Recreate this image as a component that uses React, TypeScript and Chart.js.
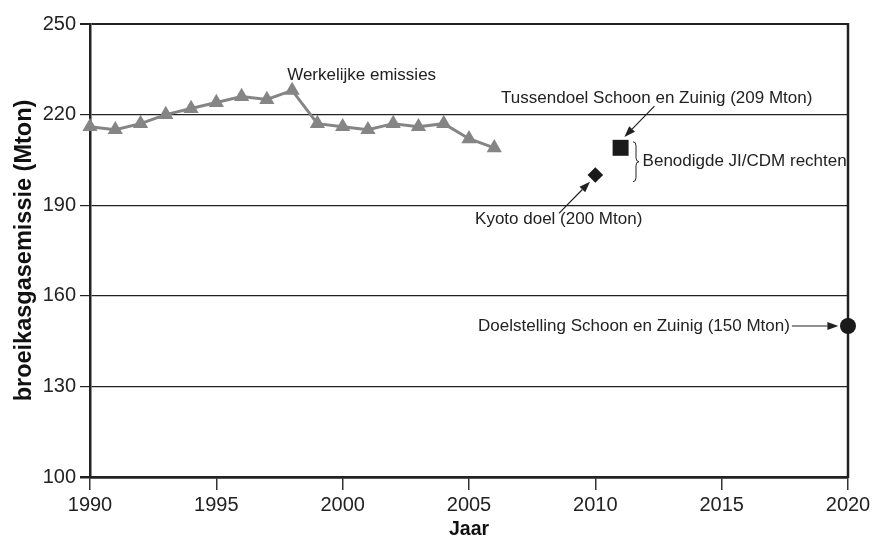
import React, { useEffect, useRef } from 'react';
import { Chart, registerables } from 'chart.js';

Chart.register(...registerables);

// ---- data ----
const years = [1990, 1991, 1992, 1993, 1994, 1995, 1996, 1997, 1998, 1999, 2000, 2001, 2002, 2003, 2004, 2005, 2006];
const emissions = [216, 215, 217, 220, 222, 224, 226, 225, 228, 217, 216, 215, 217, 216, 217, 212, 209];
const kyotoGoal = [{ x: 2010, y: 200 }];
const interimGoal = [{ x: 2011, y: 209 }];
const finalGoal = [{ x: 2020, y: 150 }];

const xMin = 1990;
const xMax = 2020;
const xStep = 5;
const yMin = 100;
const yMax = 250;
const yStep = 30;

// annotations (anchored in data units)
const textLabels = [
  { text: 'Werkelijke emissies', x: 2000.75, y: 233.1, align: 'center' },
  { text: 'Tussendoel Schoon en Zuinig (209 Mton)', x: 2012.43, y: 225.4, align: 'center' },
  { text: 'Benodigde JI/CDM rechten', x: 2011.87, y: 204.4, align: 'left' },
  { text: 'Kyoto doel (200 Mton)', x: 2008.55, y: 185.3, align: 'center' },
  { text: 'Doelstelling Schoon en Zuinig (150 Mton)', x: 2017.7, y: 150, align: 'right' },
];
const arrows = [
  { x1: 2012.34, y1: 222.8, x2: 2011.15, y2: 212.6 },
  { x1: 2008.56, y1: 187.3, x2: 2009.79, y2: 197.8 },
  { x1: 2017.78, y1: 150, x2: 2019.62, y2: 150 },
];
const braces = [{ x: 2011.61, yTop: 211, yBottom: 197.8 }];

const FONT = '"Liberation Sans", Arial, Helvetica, sans-serif';
const INK = '#222';

const annotationPlugin = {
  id: 'annotations',
  beforeDatasetsDraw(chart: any) {
    const { ctx, chartArea } = chart;
    ctx.save();
    ctx.strokeStyle = INK;
    ctx.lineWidth = 2.5;
    ctx.beginPath();
    ctx.moveTo(chartArea.right, chartArea.top - 1);
    ctx.lineTo(chartArea.right, chartArea.bottom + 1);
    ctx.stroke();
    ctx.restore();
  },
  afterDatasetsDraw(chart: any) {
    const { ctx } = chart;
    const xs = chart.scales.x;
    const ys = chart.scales.y;
    ctx.save();
    ctx.font = `17px ${FONT}`;
    ctx.fillStyle = INK;
    ctx.textBaseline = 'middle';
    for (const l of textLabels) {
      ctx.textAlign = l.align;
      ctx.fillText(l.text, xs.getPixelForValue(l.x), ys.getPixelForValue(l.y));
    }
    ctx.strokeStyle = INK;
    ctx.lineWidth = 1.2;
    for (const a of arrows) {
      const px1 = xs.getPixelForValue(a.x1);
      const py1 = ys.getPixelForValue(a.y1);
      const px2 = xs.getPixelForValue(a.x2);
      const py2 = ys.getPixelForValue(a.y2);
      const ang = Math.atan2(py2 - py1, px2 - px1);
      const len = 11;
      const hw = 4;
      const bx = px2 - Math.cos(ang) * len;
      const by = py2 - Math.sin(ang) * len;
      ctx.beginPath();
      ctx.moveTo(px1, py1);
      ctx.lineTo(bx, by);
      ctx.stroke();
      ctx.beginPath();
      ctx.moveTo(px2, py2);
      ctx.lineTo(bx + Math.sin(ang) * hw, by - Math.cos(ang) * hw);
      ctx.lineTo(bx - Math.sin(ang) * hw, by + Math.cos(ang) * hw);
      ctx.closePath();
      ctx.fill();
    }
    ctx.lineWidth = 1;
    for (const b of braces) {
      const bx = xs.getPixelForValue(b.x);
      const t = ys.getPixelForValue(b.yTop);
      const btm = ys.getPixelForValue(b.yBottom);
      const m = (t + btm) / 2;
      ctx.beginPath();
      ctx.moveTo(bx - 3, t);
      ctx.quadraticCurveTo(bx, t, bx, t + 4);
      ctx.lineTo(bx, m - 4);
      ctx.quadraticCurveTo(bx, m, bx + 3, m);
      ctx.quadraticCurveTo(bx, m, bx, m + 4);
      ctx.lineTo(bx, btm - 4);
      ctx.quadraticCurveTo(bx, btm, bx - 3, btm);
      ctx.stroke();
    }
    ctx.restore();
  },
};

export default function App() {
  const ref = useRef<HTMLCanvasElement | null>(null);
  useEffect(() => {
    document.body.style.margin = '0';
    const canvas = ref.current;
    if (!canvas) return;
    const chart = new Chart(canvas, {
      type: 'line',
      data: {
        datasets: [
          {
            label: 'Werkelijke emissies',
            data: years.map((yr, i) => ({ x: yr, y: emissions[i] })),
            borderColor: '#858585',
            backgroundColor: '#858585',
            borderWidth: 3,
            pointStyle: 'triangle',
            pointRadius: 8.8,
            pointBorderWidth: 0,
            pointBackgroundColor: '#858585',
            tension: 0,
            clip: false,
          },
          {
            label: 'Kyoto doel',
            data: kyotoGoal,
            showLine: false,
            pointStyle: 'rectRot',
            pointRadius: 7.8,
            pointBorderWidth: 0,
            pointBackgroundColor: '#1a1a1a',
            clip: false,
          },
          {
            label: 'Tussendoel',
            data: interimGoal,
            showLine: false,
            pointStyle: 'rect',
            pointRadius: 11.3,
            pointBorderWidth: 0,
            pointBackgroundColor: '#1a1a1a',
            clip: false,
          },
          {
            label: 'Doelstelling',
            data: finalGoal,
            showLine: false,
            pointStyle: 'circle',
            pointRadius: 8,
            pointBorderWidth: 0,
            pointBackgroundColor: '#1a1a1a',
            clip: false,
          },
        ],
      },
      options: {
        responsive: false,
        animation: false,
        layout: { padding: { left: 0, top: 24, right: 29, bottom: 0 } },
        plugins: { legend: { display: false }, tooltip: { enabled: false } },
        scales: {
          x: {
            type: 'linear',
            min: xMin,
            max: xMax,
            afterFit: (s: any) => { s.height = 66; },
            ticks: {
              stepSize: xStep,
              color: INK,
              font: { family: FONT, size: 20 },
              padding: 3,
              maxRotation: 0,
              callback: (v: any) => String(v),
            },
            grid: { drawOnChartArea: false, drawTicks: true, tickLength: 13, color: '#333', lineWidth: 1.5 },
            border: { display: true, width: 2.5, color: INK },
            title: {
              display: true,
              text: 'Jaar',
              color: '#111',
              font: { family: FONT, size: 19.5, weight: 'bold' },
              padding: { top: 0, bottom: 1.3 },
            },
          },
          y: {
            type: 'linear',
            min: yMin,
            max: yMax,
            afterFit: (s: any) => { s.width = 90; },
            ticks: {
              stepSize: yStep,
              color: INK,
              font: { family: FONT, size: 20 },
              padding: 4,
            },
            grid: {
              color: INK,
              tickLength: 10,
              lineWidth: (c: any) => (c.tick && c.tick.value === yMin ? 2.5 : c.tick && c.tick.value === yMax ? 2 : 1.2),
            },
            border: { display: true, width: 2.5, color: INK },
            title: {
              display: true,
              text: 'broeikasgasemissie (Mton)',
              color: '#111',
              font: { family: FONT, size: 23.5, weight: 'bold' },
              padding: { top: 10, bottom: 0 },
            },
          },
        },
      },
      plugins: [annotationPlugin],
    } as any);
    return () => chart.destroy();
  }, []);
  return (
    <div style={{ width: 877, height: 543 }}>
      <canvas ref={ref} width={877} height={543} />
    </div>
  );
}
